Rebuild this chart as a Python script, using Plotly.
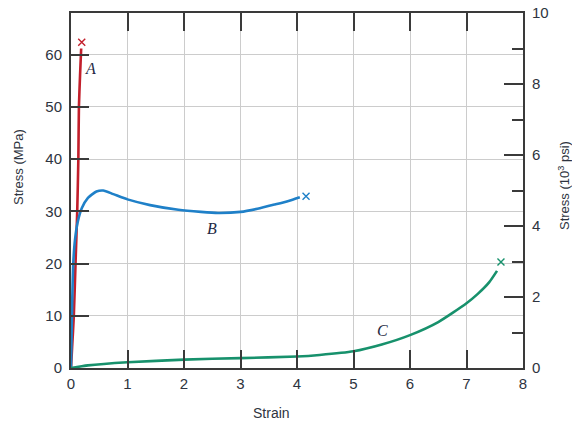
import plotly.graph_objects as go

# Curve A (brittle polymer)
a_strain = [0.0, 0.02, 0.05, 0.08, 0.11, 0.13, 0.14, 0.16, 0.18]
a_stress = [0.0, 4.0, 10.0, 20.0, 30.0, 40.0, 50.0, 56.0, 61.2]
a_break = ([0.19], [62.4])

# Curve B (plastic polymer)
b_strain = [0.0, 0.02, 0.04, 0.07, 0.12, 0.19, 0.3, 0.45, 0.57, 0.75, 1.0, 1.4, 1.9, 2.3, 2.6, 3.0, 3.3, 3.6, 3.85, 4.05]
b_stress = [0.0, 12.0, 20.0, 24.5, 28.0, 30.6, 32.6, 33.8, 34.0, 33.3, 32.3, 31.2, 30.3, 29.9, 29.7, 29.9, 30.5, 31.3, 32.0, 32.7]
b_break = ([4.16], [32.9])

# Curve C (elastomer)
c_strain = [0.0, 0.3, 1.0, 2.0, 3.0, 4.0, 4.4, 5.0, 5.5, 6.0, 6.5, 7.0, 7.2, 7.4, 7.54]
c_stress = [0.0, 0.5, 1.1, 1.6, 1.9, 2.2, 2.5, 3.2, 4.5, 6.3, 8.8, 12.4, 14.2, 16.4, 18.6]
c_break = ([7.61], [20.3])

x_ticks = [0, 1, 2, 3, 4, 5, 6, 7, 8]
y_ticks = [0, 10, 20, 30, 40, 50, 60]
y2_ticks = [0, 2, 4, 6, 8, 10]

red = "#c21f2b"
blue = "#1f80c8"
green = "#17916c"
ink = "#2e3440"
axc = "#3a3a3a"

fig = go.Figure()
for xs, ys, brk, col in [(a_strain, a_stress, a_break, red),
                         (b_strain, b_stress, b_break, blue),
                         (c_strain, c_stress, c_break, green)]:
    fig.add_trace(go.Scatter(x=xs, y=ys, mode="lines", line=dict(color=col, width=2.6, shape="spline", smoothing=0.6),
                             showlegend=False, hoverinfo="skip"))
    fig.add_trace(go.Scatter(x=brk[0], y=brk[1], mode="markers",
                             marker=dict(symbol="x-thin", size=7, line=dict(color=col, width=1.4)),
                             showlegend=False, hoverinfo="skip"))

# dummy for right axis
fig.add_trace(go.Scatter(x=[None], y=[None], yaxis="y2", showlegend=False, hoverinfo="skip"))

font = "Liberation Sans, Arial, sans-serif"
L, T, PW, PH = 71, 13, 452, 355
fig.update_layout(
    width=572, height=425,
    margin=dict(l=L, r=572 - L - PW, t=T, b=425 - T - PH, autoexpand=False),
    paper_bgcolor="white", plot_bgcolor="white",
    xaxis=dict(range=[0, 8], tickvals=x_ticks, ticks="inside", ticklen=18, tickwidth=1.6, tickcolor=axc,
               showline=True, linecolor=axc, linewidth=2, mirror="ticks", automargin=False,
               showgrid=True, gridcolor="#cccccc", gridwidth=1.3, zeroline=False,
               tickfont=dict(family=font, size=15, color=ink), ticklabelstandoff=1),
    yaxis=dict(range=[0, 68], tickvals=y_ticks, ticks="inside", ticklen=18, tickwidth=1.6, tickcolor=axc,
               showline=True, linecolor=axc, linewidth=2, mirror=True, automargin=False,
               showgrid=True, gridcolor="#cccccc", gridwidth=1.3, zeroline=False,
               tickfont=dict(family=font, size=15, color=ink), ticklabelstandoff=4),
    yaxis2=dict(range=[0, 10], overlaying="y", side="right", tickvals=y2_ticks, ticks="inside", ticklen=19,
                tickwidth=1.6, tickcolor=axc, showline=True, linecolor=axc, linewidth=2, automargin=False,
                showgrid=False, zeroline=False, ticklabeloverflow="allow",
                minor=dict(tickvals=[1, 3, 5, 7, 9], ticks="inside", ticklen=11, tickwidth=1.6, tickcolor=axc),
                tickfont=dict(family=font, size=15, color=ink), ticklabelstandoff=4),
)

annos = [
    dict(text="Stress (MPa)", x=18, y=167, textangle=-90, size=13),
    dict(text="Stress (10<sup>3</sup> psi)", x=564, y=186, textangle=-90, size=13),
    dict(text="Strain", x=271, y=413, textangle=0, size=14),
]
for a in annos:
    fig.add_annotation(text=a["text"], x=(a["x"] - L) / PW, y=(T + PH - a["y"]) / PH, xref="paper", yref="paper",
                       xanchor="center", yanchor="middle", showarrow=False, textangle=a["textangle"],
                       font=dict(family=font, size=a["size"], color=ink))

# curve labels
labels = [("A", 0.34, 57.4), ("B", 2.5, 26.8), ("C", 5.52, 7.1)]
for t, lx, ly in labels:
    fig.add_annotation(text=f"<i>{t}</i>", x=lx, y=ly, xref="x", yref="y", showarrow=False,
                       font=dict(family="Liberation Serif, serif", size=16, color="#1f2a44"))

fig.write_html("out.html", config={"displayModeBar": False},
               post_script="document.body.style.margin='0';")
